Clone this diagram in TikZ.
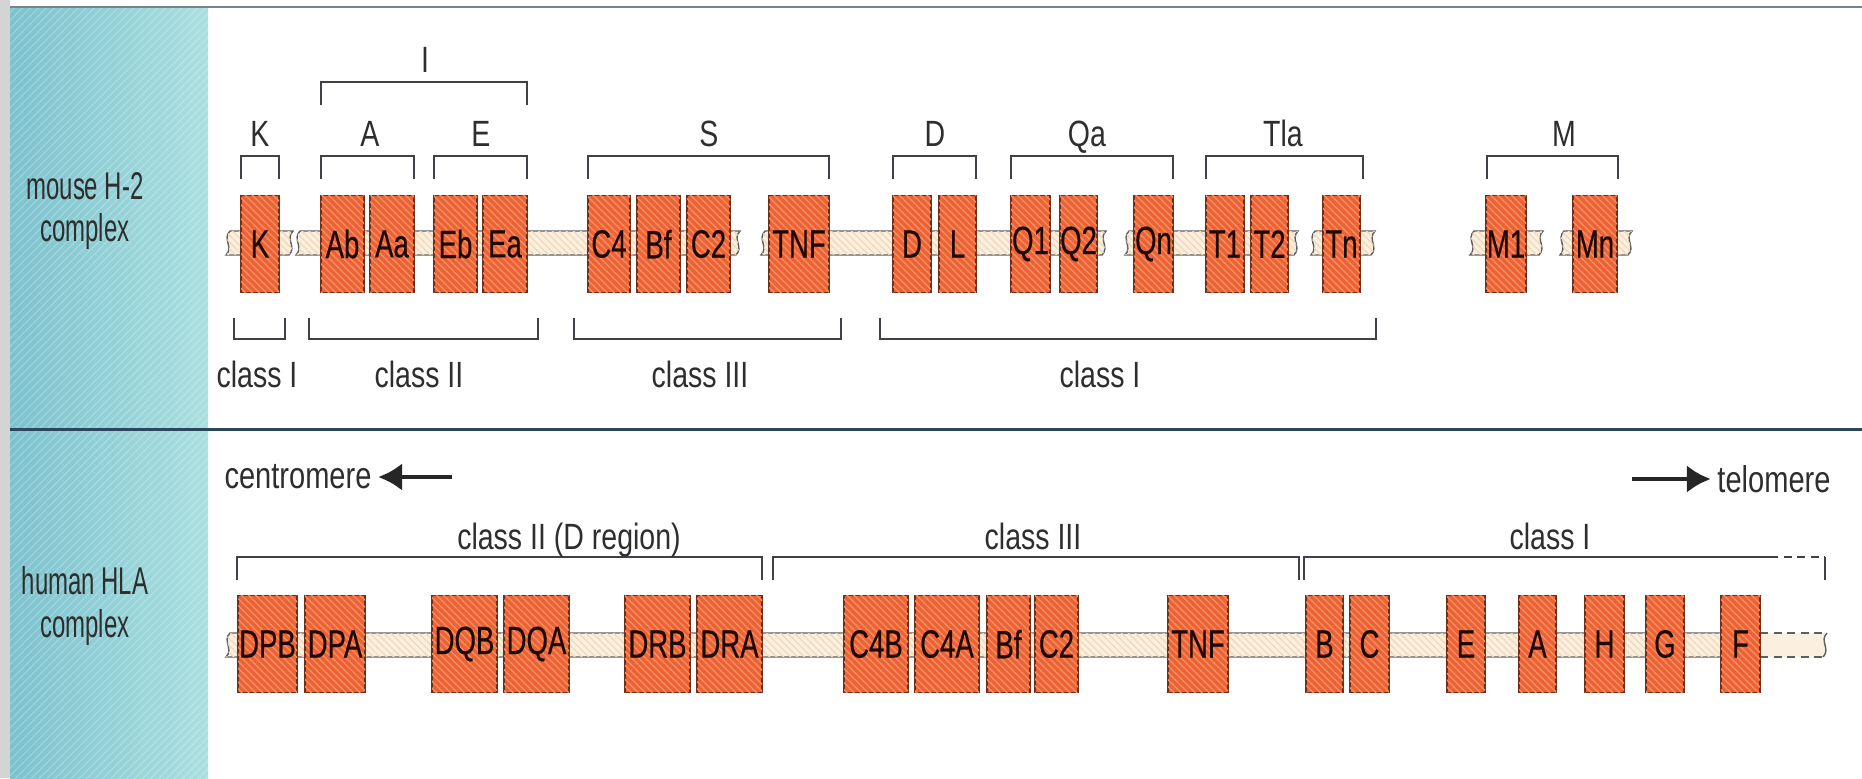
\documentclass[tikz,border=0pt]{standalone}
\usepackage{fontspec}
\setmainfont{Liberation Sans}[FakeStretch=0.78]
\newfontfamily\sidefont{Liberation Sans}[FakeStretch=0.62]
\newfontfamily\genefont{Liberation Sans}[FakeStretch=0.7,FakeBold=0.4]
\usetikzlibrary{positioning,arrows.meta,patterns.meta}

\definecolor{geneorange}{HTML}{EC6234}
\definecolor{genestripe}{HTML}{F58E62}
\definecolor{geneedge}{HTML}{6E2E1C}
\definecolor{genetext}{HTML}{1E0A04}
\definecolor{bandcream}{HTML}{FBF0DF}
\definecolor{bandstripe}{HTML}{EFDABD}
\definecolor{bandline}{HTML}{5E5E5E}
\definecolor{bracketgrey}{HTML}{404048}
\definecolor{labelgrey}{HTML}{2E2E2E}
\definecolor{tealdark}{HTML}{7CC2CE}
\definecolor{teallight}{HTML}{AAE0E0}
\definecolor{stripgrey}{HTML}{D3D5D5}
\definecolor{rulegrey}{HTML}{7A828C}
\definecolor{divider}{HTML}{2C465E}

\tikzset{
  gene/.style={draw=geneedge, line width=0.4pt, fill=geneorange,
    postaction={pattern={Lines[angle=-45,distance=1.4pt,line width=0.4pt]}, pattern color=genestripe},
    minimum height=9.7mm, inner sep=0pt, text=genetext,
    font=\genefont\fontsize{11.2}{13}\selectfont},
  band/.style={draw=bandline, line width=0.4pt, fill=bandcream,
    postaction={pattern={Lines[angle=-45,distance=1.4pt,line width=0.4pt]}, pattern color=bandstripe}},
  bracket/.style={draw=bracketgrey, line width=0.55pt},
  grouplabel/.style={text=labelgrey, font=\fontsize{10.4}{12}\selectfont, inner sep=0pt, anchor=base},
  sidelabel/.style={text=labelgrey, font=\sidefont\fontsize{11}{12.2}\selectfont, align=center},
  dirlabel/.style={text=labelgrey, font=\fontsize{10.6}{12}\selectfont, inner xsep=0.6mm},
  dirarrow/.style={-{Latex[length=2.4mm,width=2.8mm]}, line width=1.4pt, black!85},
}

\newcommand\chromseg[3]{%
  \draw[band] (#1+2,#3-12) -- (#2+2,#3-12)
    .. controls (#2-6,#3-4) and (#2+6,#3+4) .. (#2-2,#3+12)
    -- (#1-2,#3+12)
    .. controls (#1+6,#3+4) and (#1-6,#3-4) .. cycle;}
\newcommand\capup[3]{\draw[bracket] (#1,#3+23) |- (#2,#3) -- (#2,#3+23);}
\newcommand\capdown[3]{\draw[bracket] (#1,#3-21) |- (#2,#3) -- (#2,#3-21);}

\begin{document}
\begin{tikzpicture}[x=0.1mm,y=-0.1mm]
\useasboundingbox (0,0) rectangle (1862,778);
\fill[white] (0,0) rectangle (1862,778);
\fill[stripgrey] (0,0) rectangle (10,778);
\shade[left color=tealdark, right color=teallight] (10,7) rectangle (208,778);
\fill[pattern={Lines[angle=45,distance=1.6pt,line width=0.3pt]}, pattern color=white, opacity=0.25] (10,7) rectangle (208,778);
\draw[rulegrey, line width=0.5pt] (10,7) -- (1862,7);
\draw[divider, line width=0.85pt] (10,429) -- (1862,429);

\node[sidelabel] (mouse) at (85,211) {mouse H-2\\complex};
\node[sidelabel] (human) at (85,606) {human HLA\\complex};

\begin{scope}
\foreach \a/\b in {228/291, 298/738, 763/1104, 1127/1296, 1313/1373, 1472/1541, 1562/1630}
  \chromseg{\a}{\b}{243};
\foreach \g/\a/\b in {K/241/279, Ab/321/364, Aa/370/414, Eb/434/477, Ea/483/527,
    C4/588/630, Bf/637/680, C2/687/730, TNF/769/829, D/893/931, L/939/976,
    Q1/1011/1050, Q2/1060/1097, Qn/1134/1173, T1/1206/1244, T2/1251/1288,
    Tn/1323/1360, M1/1486/1526, Mn/1573/1617}
  \node[gene, minimum width={(\b-\a)*0.1mm}] (m-\g) at ({(\a+\b)/2},244) {\g};
\capup{321}{527}{82}
\node[grouplabel] (g-I) at (425,72) {I};
\foreach \a/\b/\x/\t in {241/279/260/K, 321/414/370/A, 434/527/481/E, 588/829/709/S,
    893/976/935/D, 1011/1173/1087/Qa, 1206/1363/1283/Tla, 1487/1618/1564/M}
  {\capup{\a}{\b}{156}
   \node[grouplabel] (g-\t) at (\x,146) {\t};}
\foreach \a/\b/\x/\t/\n in {234/285/257/class I/1, 309/538/419/class II/2,
    574/841/700/class III/3, 880/1376/1100/class I/4}
  {\capdown{\a}{\b}{339}
   \node[grouplabel] (mc-\n) at (\x,387) {\t};}
\end{scope}

\begin{scope}
\draw[band] (1765,633) -- (230,633) .. controls (222,641) and (234,649) .. (226,657) -- (1765,657);
\fill[bandcream] (1760,633) rectangle (1825,657);
\draw[bandline, line width=0.4pt, dash pattern=on 0.8mm off 0.55mm] (1760,633) -- (1825,633) (1760,657) -- (1825,657);
\draw[bandline, line width=0.4pt] (1827,633) .. controls (1819,641) and (1831,649) .. (1823,657);
\foreach \g/\a/\b in {DPB/238/297, DPA/305/365, DQB/432/497, DQA/504/569, DRB/625/690,
    DRA/697/762, C4B/844/908, C4A/915/979, Bf/987/1030, C2/1035/1078, TNF/1168/1228,
    B/1306/1343, C/1350/1389, E/1447/1485, A/1519/1556, H/1585/1624, G/1646/1684, F/1721/1760}
  \node[gene, minimum width={(\b-\a)*0.1mm}] (h-\g) at ({(\a+\b)/2},644) {\g};
\capup{237}{762}{557}
\capup{773}{1299}{557}
\draw[bracket] (1304,580) |- (1770,557);
\draw[bracket, dash pattern=on 0.8mm off 0.55mm] (1770,557) -- (1825,557);
\draw[bracket] (1825,557) -- (1825,580);
\node[grouplabel] (hc-2) at (569,549) {class II (D region)};
\node[grouplabel] (hc-3) at (1033,549) {class III};
\node[grouplabel] (hc-1) at (1550,549) {class I};

\node[dirlabel] (cen) at (298,477) {centromere};
\coordinate (cen-tail) at (452,477);
\draw[dirarrow] (cen-tail) -- (cen);
\node[dirlabel] (tel) at (1774,479) {telomere};
\coordinate (tel-tail) at (1632,479);
\draw[dirarrow] (tel-tail) -- (tel);
\end{scope}
\end{tikzpicture}
\end{document}
